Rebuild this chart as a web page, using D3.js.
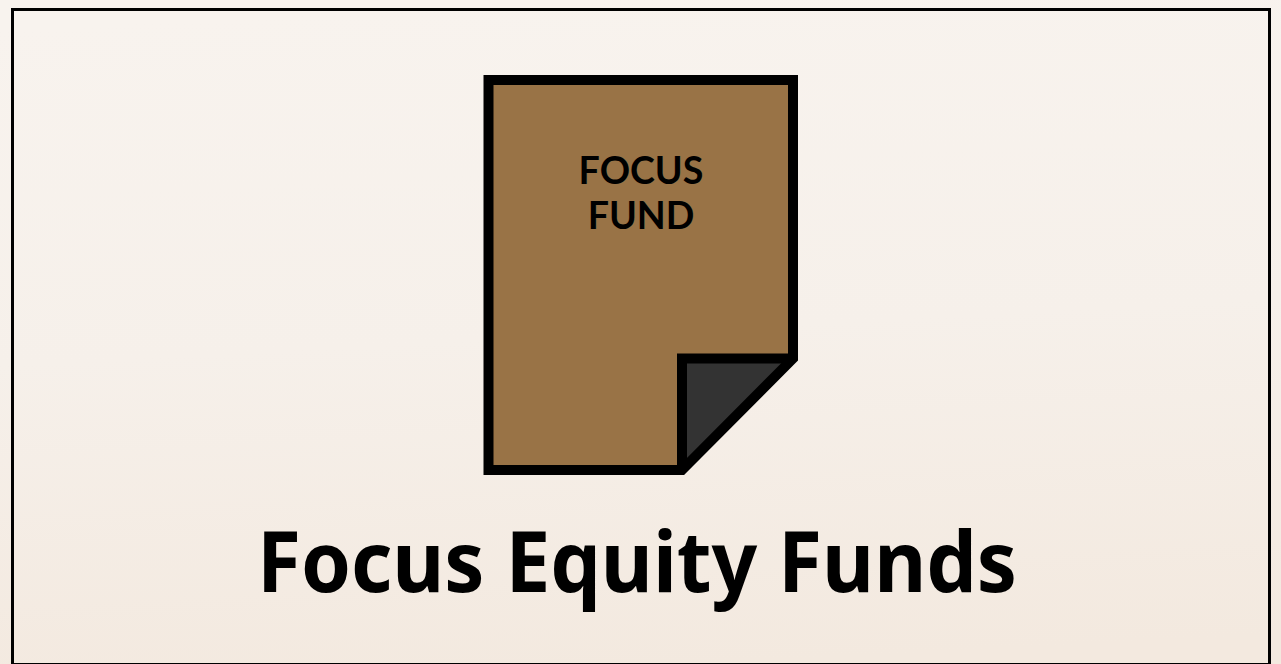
<!DOCTYPE html>
<html>
<head>
<meta charset="utf-8">
<script src="https://cdn.jsdelivr.net/npm/d3@7"></script>
<style>
  html, body { margin: 0; padding: 0; overflow: hidden; background: #f6f0ea; }
  svg { display: block; }
</style>
</head>
<body>
<div id="svganchor"></div>
<script>
let width = 1281;
let height = 664;

let iconLabels = ["FOCUS", "FUND"];
let titleLabels = ["Focus Equity Funds"];
let gradientStops = ["#f8f3ee", "#f6f0ea", "#f3e9df"];

let svg = d3.select("#svganchor").append("svg").attr("width", width).attr("height", height);

// soft page background
let grad = svg.append("defs").append("linearGradient")
  .attr("id", "bg").attr("x1", "0.45").attr("y1", "0").attr("x2", "0.55").attr("y2", "1");
grad.selectAll("stop").data(gradientStops).enter().append("stop")
  .attr("offset", (d, i) => i / (gradientStops.length - 1))
  .attr("stop-color", d => d);

svg.append("rect").attr("width", width).attr("height", height).attr("fill", "url(#bg)");

// frame, the bottom edge runs off the window
svg.append("rect")
  .attr("x", 12.5).attr("y", 9.5)
  .attr("width", 1257).attr("height", 655)
  .attr("fill", "none").attr("stroke", "#000").attr("stroke-width", 3);

// document icon
let line = d3.line();
let left = 488.5, right = 793, top_ = 80, bottom = 470, foldX = 682, foldY = 358.5;
let outline = line([[left, top_], [right, top_], [right, foldY], [foldX, bottom], [left, bottom]]) + "Z";

svg.append("path").attr("d", outline).attr("fill", "#997346");

svg.append("path")
  .attr("d", line([[foldX, foldY], [right, foldY], [foldX, bottom]]) + "Z")
  .attr("fill", "#333333");

// two legs of the fold, then the outline on top so the sharp tips stay hidden
svg.append("path")
  .attr("d", line([[right, foldY], [foldX, foldY], [foldX, bottom]]))
  .attr("fill", "none").attr("stroke", "#000").attr("stroke-width", 10);

svg.append("path")
  .attr("d", outline)
  .attr("fill", "none").attr("stroke", "#000").attr("stroke-width", 10)
  .attr("stroke-linejoin", "miter");

svg.selectAll(".icon-label").data(iconLabels).enter().append("text")
  .attr("class", "icon-label")
  .attr("x", 641)
  .attr("y", (d, i) => 184 + i * 45)
  .attr("text-anchor", "middle")
  .attr("font-family", "Lato")
  .attr("font-weight", 700)
  .attr("font-size", 37.6)
  .attr("fill", "#000")
  .text(d => d);

// title squeezed a little, the original face is narrower than Noto Sans
svg.selectAll(".title").data(titleLabels).enter().append("text")
  .attr("class", "title")
  .attr("x", 637)
  .attr("y", 592)
  .attr("text-anchor", "middle")
  .attr("font-family", "Noto Sans")
  .attr("font-weight", 700)
  .attr("font-size", 85)
  .attr("textLength", 760)
  .attr("lengthAdjust", "spacingAndGlyphs")
  .attr("fill", "#000")
  .text(d => d);
</script>
</body>
</html>
